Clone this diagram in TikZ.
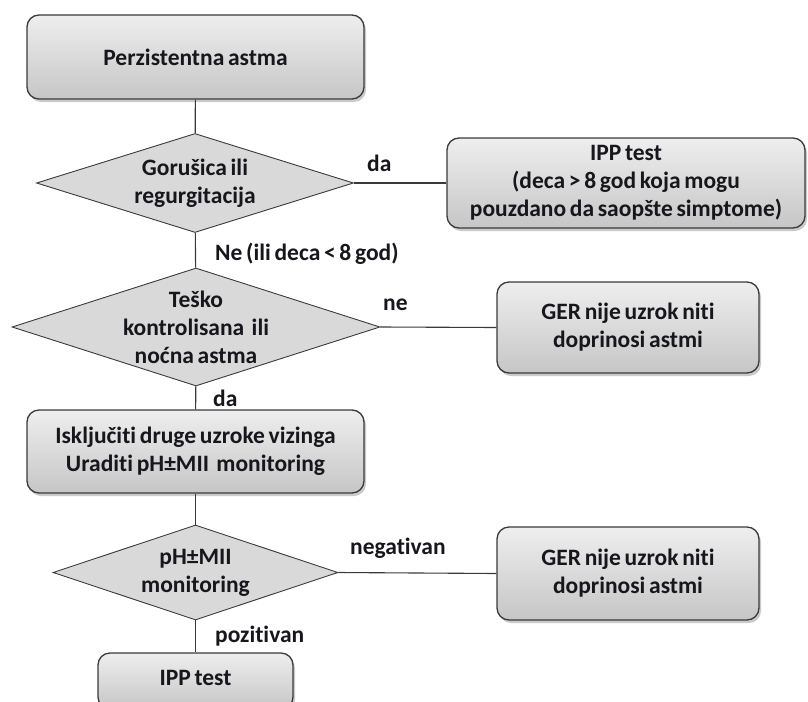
\documentclass[tikz,border=0pt]{standalone}
\usepackage{fontspec}
\setmainfont{Carlito}[Ligatures=NoCommon, WordSpace=0.7]
\usetikzlibrary{shapes.geometric,shadows}

\definecolor{boxtop}{HTML}{EEEEEE}
\definecolor{boxbot}{HTML}{C6C6C6}
\definecolor{diafill}{HTML}{D9D9D9}
\definecolor{edgecol}{HTML}{3A3A3A}
\definecolor{inkcol}{HTML}{16161C}

\tikzset{
  txt/.style={font=\fontsize{23.5}{28}\selectfont\bfseries, text=inkcol, align=center},
  stepbox/.style={txt, draw=edgecol, line width=1.3pt, rounded corners=12pt,
    top color=boxtop, bottom color=boxbot, inner sep=0pt,
    drop shadow={shadow xshift=2pt, shadow yshift=-3pt, opacity=0.35, fill=black!60}},
  decision/.style={shape=diamond, draw=edgecol, line width=0.9pt, fill=diafill,
    inner sep=0pt},
  dtext/.style={txt},
  lbl/.style={txt, anchor=west, inner sep=0pt},
  link/.style={draw=edgecol, line width=1.1pt},
}

\begin{document}
\begin{tikzpicture}[x=1pt, y=-1pt]
  \useasboundingbox (0,0) rectangle (808,701);
  \clip (0,0) rectangle (808,701);

  % main column
  \node[stepbox, minimum width=337pt, minimum height=84pt] (start) at (195.5,57) {Perzistentna astma};
  \node[decision, minimum width=317pt, minimum height=99pt,
        label={[dtext]center:{Gorušica ili\\regurgitacija}}] (q1) at (195,183) {};
  \node[decision, minimum width=368pt, minimum height=118pt,
        label={[dtext]center:{Teško\\kontrolisana\ \ ili\\noćna astma}}] (q2) at (196,327) {};
  \node[stepbox, minimum width=337pt, minimum height=83pt] (excl) at (195.5,451.5)
        {Isključiti druge uzroke vizinga\\Uraditi pH±MII\ \ monitoring};
  \node[decision, minimum width=285pt, minimum height=95pt,
        label={[dtext]center:{pH±MII\\monitoring}}] (q3) at (195.5,572.5) {};
  \node[stepbox, minimum width=195pt, minimum height=56pt] (ipp2) at (195.5,681) {};
  \node[txt] (ipp2t) at (195.5,678) {IPP test};

  % right column
  \node[stepbox, minimum width=358pt, minimum height=90pt] (ipp1) at (626,183)
        {IPP test\\(deca > 8 god koja mogu\\pouzdano da saopšte simptome)};
  \node[stepbox, minimum width=262pt, minimum height=91pt] (ger1) at (628,327.5)
        {GER nije uzrok niti\\doprinosi astmi};
  \node[stepbox, minimum width=262pt, minimum height=93pt] (ger2) at (628,573.5)
        {GER nije uzrok niti\\doprinosi astmi};

  % connectors
  \draw[link] (start) -- (q1);
  \draw[link] (q1) -- (q2);
  \draw[link] (q2) -- (excl);
  \draw[link] (excl) -- (q3);
  \draw[link] (q3) -- (ipp2);
  \draw[link] (q1.east) -- (ipp1.west);
  \draw[link] (q2.east) -- (ger1.west);
  \draw[link] (q3.east) -- (ger2.west);

  % branch labels
  \node[lbl] (l1) at (367,163) {da};
  \node[lbl] (l2) at (215,254) {Ne (ili deca < 8 god)};
  \node[lbl] (l3) at (383,305) {ne};
  \node[lbl] (l4) at (213,398) {da};
  \node[lbl] (l5) at (350,548) {negativan};
  \node[lbl] (l6) at (215,636) {pozitivan};
\end{tikzpicture}
\end{document}
